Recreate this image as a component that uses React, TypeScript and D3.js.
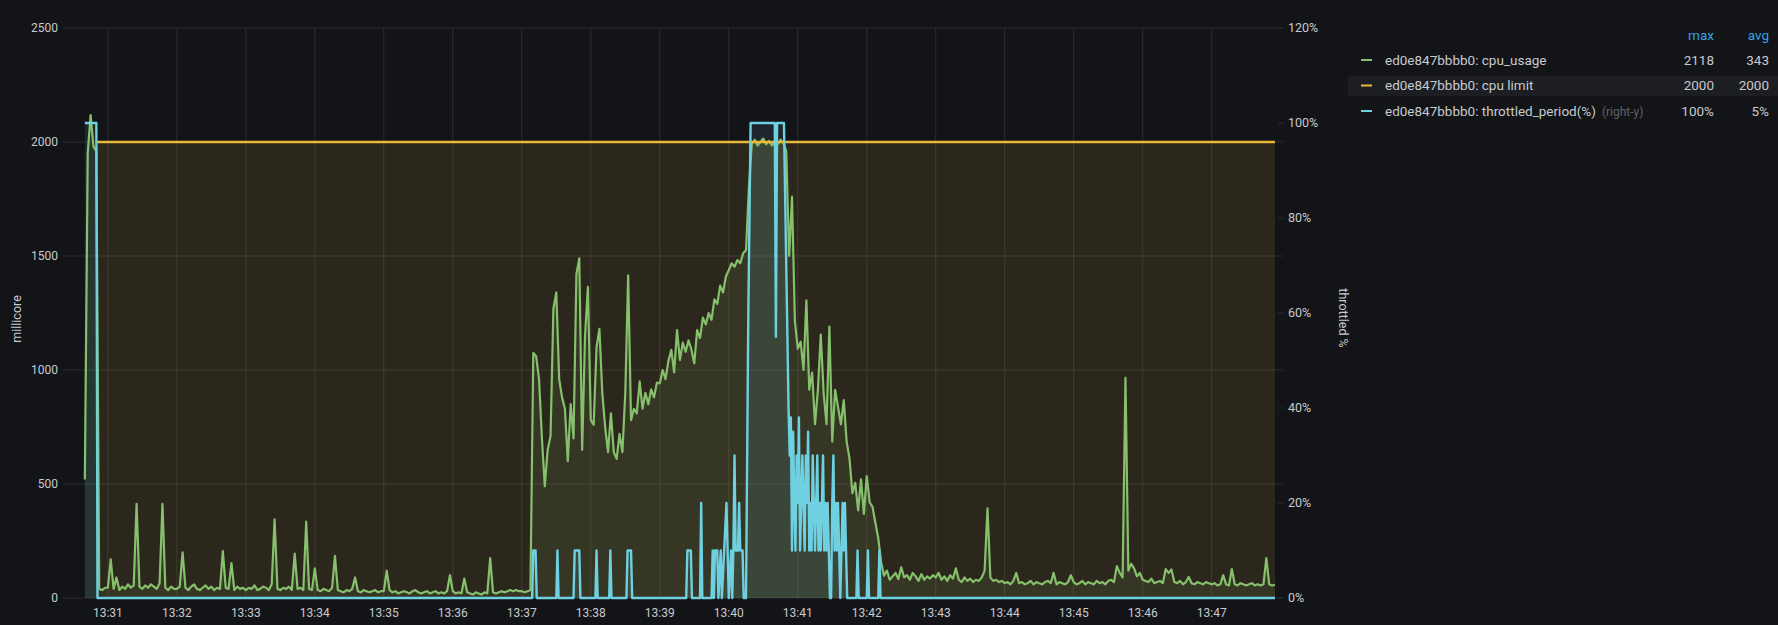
import * as d3 from "d3";

const W = 1778;
const H = 625;

// cpu_usage, millicore, one sample every 2.5 s from 13:30:40
const usageStart = "13:30:40";
const usageStepSec = 2.5;
const cpuUsage = [
  520, 1950, 2118, 1980, 1960, 40, 35, 45, // 13:30:40
  45, 170, 40, 90, 35, 50, 40, 60, 45, 55, 413, 50, 40, 55, 45, 60, 50, 40, 65, 413, 45, 35, 50, 40, // 13:31
  40, 50, 200, 45, 35, 50, 60, 40, 35, 45, 55, 40, 50, 35, 45, 40, 206, 45, 40, 153, 35, 50, 40, 45, // 13:32
  35, 45, 40, 55, 35, 40, 50, 45, 35, 60, 345, 40, 35, 45, 40, 50, 35, 195, 40, 45, 35, 335, 40, 35, // 13:33
  130, 35, 30, 40, 35, 30, 45, 185, 35, 30, 25, 35, 30, 40, 90, 30, 25, 35, 30, 25, 30, 35, 25, 30, // 13:34
  30, 120, 35, 25, 30, 20, 25, 30, 25, 20, 30, 35, 25, 20, 25, 30, 20, 25, 30, 20, 25, 20, 30, 100, // 13:35
  30, 20, 25, 20, 85, 25, 20, 15, 25, 20, 15, 25, 20, 175, 25, 20, 25, 30, 25, 30, 35, 30, 35, 30, // 13:36
  30, 25, 30, 35, 1075, 1060, 960, 700, 490, 650, 710, 1270, 1340, 960, 880, 830, 600, 850, 700, 1420, 1490, 650, 1150, 1365, // 13:37
  780, 760, 1100, 1180, 900, 750, 640, 810, 640, 610, 720, 640, 900, 1415, 780, 830, 810, 950, 830, 900, 850, 915, 880, 945, // 13:38
  941, 1000, 960, 1040, 1088, 990, 1175, 1044, 1120, 1080, 1130, 1090, 1029, 1175, 1140, 1230, 1200, 1250, 1220, 1310, 1290, 1370, 1340, 1410, // 13:39
  1438, 1468, 1453, 1482, 1468, 1512, 1526, 1800, 1990, 2010, 1985, 2000, 2015, 1990, 2005, 1985, 2000, 1990, 2010, 1995, 1960, 1500, 1760, 1215, // 13:40
  1094, 1124, 1000, 1306, 913, 989, 762, 913, 1155, 900, 762, 1190, 686, 913, 838, 762, 868, 686, 611, 460, 505, 384, 520, 369, // 13:41
  535, 420, 400, 330, 263, 158, 98, 120, 80, 95, 110, 83, 135, 90, 100, 80, 110, 95, 75, 105, 80, 95, 85, 100, // 13:42
  90, 110, 80, 95, 75, 100, 85, 130, 80, 70, 90, 75, 85, 70, 80, 75, 90, 120, 393, 90, 75, 80, 70, 75, // 13:43
  65, 70, 60, 75, 110, 65, 70, 60, 65, 75, 60, 70, 65, 60, 70, 75, 65, 110, 60, 70, 65, 60, 70, 100, // 13:44
  70, 60, 65, 75, 60, 70, 65, 60, 75, 65, 70, 60, 75, 80, 70, 140, 110, 90, 966, 120, 150, 130, 95, 110, // 13:45
  80, 75, 70, 85, 65, 70, 75, 65, 127, 110, 125, 70, 65, 75, 60, 70, 92, 65, 60, 70, 65, 60, 70, 65, // 13:46
  60, 65, 55, 60, 100, 60, 55, 127, 60, 55, 65, 60, 55, 60, 65, 55, 60, 55, 60, 175, 60, 55, 58, // 13:47
];

// cpu limit, millicore
const limitTimes = ["13:30:50", "13:47:55"];
const cpuLimit = [2000, 2000];

// throttled_period(%), irregular samples
const throttled: [string, number][] = [
  ["13:30:40", 100], ["13:30:50", 100], ["13:30:51", 0],
  ["13:37:09", 0], ["13:37:10", 10], ["13:37:12", 10], ["13:37:13", 0],
  ["13:37:30", 0], ["13:37:31", 10], ["13:37:32", 0],
  ["13:37:45", 0], ["13:37:46", 10], ["13:37:50", 10], ["13:37:51", 0],
  ["13:38:04", 0], ["13:38:05", 10], ["13:38:06", 0],
  ["13:38:16", 0], ["13:38:17", 10], ["13:38:18", 0],
  ["13:38:31", 0], ["13:38:32", 10], ["13:38:35", 10], ["13:38:36", 0],
  ["13:39:23", 0], ["13:39:24", 10], ["13:39:27", 10], ["13:39:28", 0],
  ["13:39:35", 0], ["13:39:36", 20], ["13:39:37", 0],
  ["13:39:45", 0], ["13:39:46", 10], ["13:39:47", 0], ["13:39:48", 10], ["13:39:50", 10], ["13:39:51", 0],
  ["13:39:53", 10], ["13:39:54", 0], ["13:39:56", 10], ["13:39:58", 20], ["13:39:59", 10], ["13:40:00", 0],
  ["13:40:02", 10], ["13:40:03", 0], ["13:40:04", 10], ["13:40:05", 30], ["13:40:06", 10], ["13:40:08", 10],
  ["13:40:09", 20], ["13:40:10", 10], ["13:40:12", 10], ["13:40:13", 0], ["13:40:15", 0],
  ["13:40:17", 60], ["13:40:19", 100], ["13:40:40", 100], ["13:40:41", 55], ["13:40:42", 100],
  ["13:40:48", 100], ["13:40:50", 70], ["13:40:52", 40], ["13:40:53", 30], ["13:40:54", 38],
  ["13:40:55", 10], ["13:40:56", 35], ["13:40:57", 20], ["13:40:58", 10], ["13:40:59", 30],
  ["13:41:00", 20], ["13:41:01", 38], ["13:41:02", 10], ["13:41:03", 20], ["13:41:04", 30],
  ["13:41:05", 20], ["13:41:06", 10], ["13:41:07", 30], ["13:41:08", 20], ["13:41:09", 35],
  ["13:41:10", 10], ["13:41:11", 20], ["13:41:12", 10], ["13:41:13", 30], ["13:41:14", 20],
  ["13:41:15", 10], ["13:41:16", 20], ["13:41:17", 30], ["13:41:18", 10], ["13:41:19", 20],
  ["13:41:20", 10], ["13:41:21", 20], ["13:41:22", 30], ["13:41:23", 10], ["13:41:24", 20],
  ["13:41:25", 10], ["13:41:26", 20], ["13:41:27", 10], ["13:41:28", 0], ["13:41:29", 0],
  ["13:41:30", 20], ["13:41:31", 30], ["13:41:32", 10], ["13:41:33", 20], ["13:41:34", 10],
  ["13:41:35", 20], ["13:41:36", 10], ["13:41:37", 0], ["13:41:38", 10], ["13:41:39", 20],
  ["13:41:40", 10], ["13:41:41", 20], ["13:41:42", 10], ["13:41:43", 0],
  ["13:41:51", 0], ["13:41:52", 10], ["13:41:53", 0],
  ["13:42:00", 0], ["13:42:01", 10], ["13:42:02", 0],
  ["13:42:10", 0], ["13:42:11", 10], ["13:42:12", 0],
  ["13:47:55", 0],
];

const leftTicks = [0, 500, 1000, 1500, 2000, 2500];
const rightTicks = [0, 20, 40, 60, 80, 100, 120];
const minuteTicks = ["13:31", "13:32", "13:33", "13:34", "13:35", "13:36", "13:37", "13:38", "13:39",
  "13:40", "13:41", "13:42", "13:43", "13:44", "13:45", "13:46", "13:47"];

const legendNames = ["ed0e847bbbb0: cpu_usage", "ed0e847bbbb0: cpu limit", "ed0e847bbbb0: throttled_period(%)"];
const legendMax = ["2118", "2000", "100%"];
const legendAvg = ["343", "2000", "5%"];

const BG = "#131418";
const GRID = "#2b2d31";
const TXT = "#c8cacd";
const GREEN = "#86c06c";
const ORANGE = "#EAB839";
const BLUE = "#6ED0E0";
const FONT = "Roboto, 'Noto Sans', sans-serif";

type P = { t: Date; v: number };
const parse = d3.timeParse("%H:%M:%S");
const T = (s: string) => parse(s) as Date;
const M = (s: string) => d3.timeParse("%H:%M")(s) as Date;

export default function App() {
  const x = d3.scaleTime().domain([T("13:30:21"), T("13:48:02")]).range([63, 1283]);
  const yL = d3.scaleLinear().domain([0, 2500]).range([598, 28]);
  const yR = d3.scaleLinear().domain([0, 120]).range([598, 28]);

  const t0 = T(usageStart).getTime();
  const usage: P[] = cpuUsage.map((v, i) => ({ t: new Date(t0 + i * usageStepSec * 1000), v }));
  const limit: P[] = limitTimes.map((s, i) => ({ t: T(s), v: cpuLimit[i] }));
  const thr: P[] = throttled.map(([s, v]) => ({ t: T(s), v }));

  const lineL = d3.line<P>().x((d) => x(d.t)).y((d) => yL(d.v));
  const areaL = d3.area<P>().x((d) => x(d.t)).y0(yL(0)).y1((d) => yL(d.v));
  const lineR = d3.line<P>().x((d) => x(d.t)).y((d) => yR(d.v));
  const areaR = d3.area<P>().x((d) => x(d.t)).y0(yR(0)).y1((d) => yR(d.v));

  const [x0, x1] = x.range();
  const LG = 13.5;

  return (
    <div style={{ position: "fixed", left: 0, top: 0, width: W, height: H, background: BG }}>
      <svg width={W} height={H} style={{ display: "block" }} fontFamily={FONT}>
        <rect width={W} height={H} fill={BG} />

        {/* grid */}
        {leftTicks.map((v) => (
          <line key={"h" + v} x1={x0} x2={x1} y1={yL(v)} y2={yL(v)} stroke={GRID} />
        ))}
        {minuteTicks.map((m) => (
          <line key={"v" + m} x1={x(M(m))} x2={x(M(m))} y1={yL(2500)} y2={yL(0)} stroke={GRID} />
        ))}

        {/* fills */}
        <path d={areaL(limit) || ""} fill={ORANGE} fillOpacity={0.12} />
        <path d={areaL(usage) || ""} fill={GREEN} fillOpacity={0.1} />
        <path d={areaR(thr) || ""} fill={BLUE} fillOpacity={0.1} />

        {/* lines */}
        <path d={lineL(usage) || ""} fill="none" stroke={GREEN} strokeWidth={2.2} strokeLinejoin="round" />
        <path d={lineL(limit) || ""} fill="none" stroke={ORANGE} strokeWidth={2.4} />
        <path d={lineR(thr) || ""} fill="none" stroke={BLUE} strokeWidth={2.4} strokeLinejoin="round" />

        {/* left axis */}
        {leftTicks.map((v) => (
          <text key={"l" + v} x={58} y={yL(v)} dy="0.35em" textAnchor="end" fill={TXT} fontSize={12}>
            {v}
          </text>
        ))}
        <text transform={`translate(17,319) rotate(-90)`} textAnchor="middle" dy="0.35em" fill={TXT} fontSize={12.5}>
          millicore
        </text>

        {/* right axis */}
        {rightTicks.map((v) => (
          <g key={"r" + v}>
            <line x1={x1 - 5} x2={x1} y1={yR(v)} y2={yR(v)} stroke={GRID} />
            <text x={x1 + 5} y={yR(v)} dy="0.35em" fill={TXT} fontSize={12.5}>
              {v + "%"}
            </text>
          </g>
        ))}
        <text transform={`translate(1343,318) rotate(90)`} textAnchor="middle" dy="0.35em" fill={TXT} fontSize={12.5}>
          throttled %
        </text>

        {/* time axis */}
        {minuteTicks.map((m) => (
          <text key={"x" + m} x={x(M(m))} y={613} dy="0.35em" textAnchor="middle" fill={TXT} fontSize={12}>
            {m}
          </text>
        ))}

        {/* legend */}
        <text x={1714} y={35} dy="0.35em" textAnchor="end" fill="#33a2e5" fontSize={LG}>max</text>
        <text x={1769} y={35} dy="0.35em" textAnchor="end" fill="#33a2e5" fontSize={LG}>avg</text>
        <rect x={1348} y={76} width={430} height={20} fill="#1d1e23" />
        {legendNames.map((name, i) => {
          const cy = 60 + i * 25.5;
          const col = [GREEN, ORANGE, BLUE][i];
          return (
            <g key={name}>
              <line x1={1361} x2={1372} y1={cy} y2={cy} stroke={col} strokeWidth={2} />
              <text x={1385} y={cy} dy="0.35em" fill={TXT} fontSize={LG}>
                {name}
                {i === 2 && (
                  <tspan dx={6} fill="#5f6167" fontSize={12}>(right-y)</tspan>
                )}
              </text>
              <text x={1714} y={cy} dy="0.35em" textAnchor="end" fill={TXT} fontSize={LG}>{legendMax[i]}</text>
              <text x={1769} y={cy} dy="0.35em" textAnchor="end" fill={TXT} fontSize={LG}>{legendAvg[i]}</text>
            </g>
          );
        })}
      </svg>
    </div>
  );
}
